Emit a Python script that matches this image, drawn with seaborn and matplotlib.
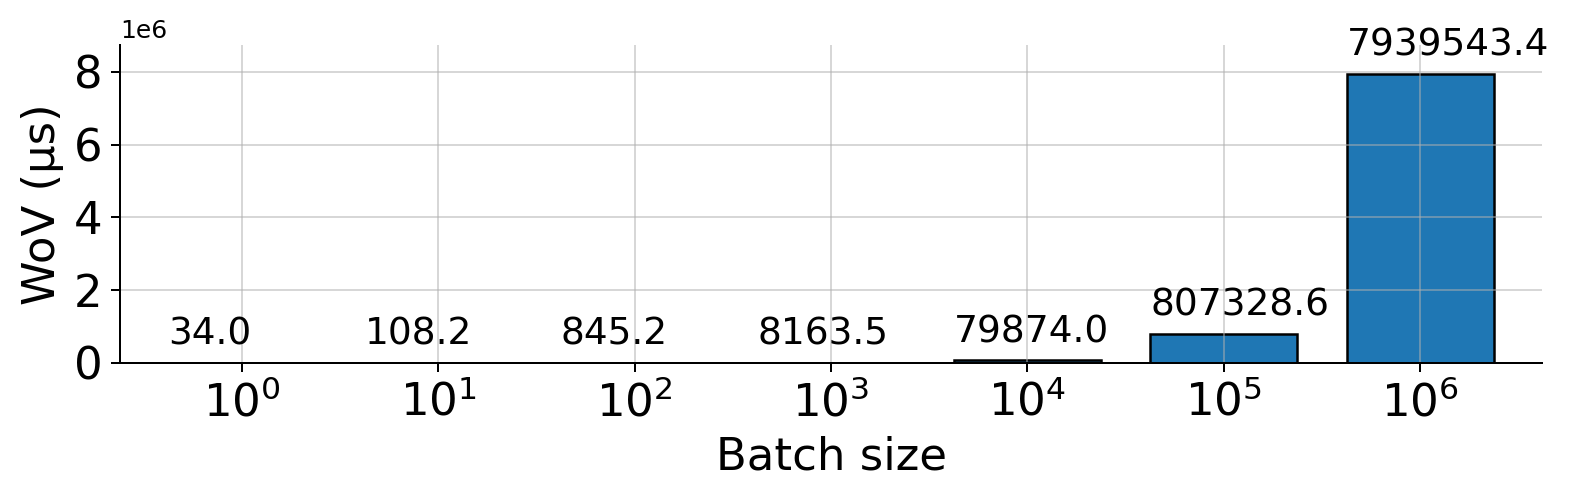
import matplotlib
matplotlib.use("Agg")
import matplotlib.pyplot as plt
import matplotlib.ticker as mticker
import pandas as pd
import seaborn as sns

batch_sizes = ["$10^{0}$", "$10^{1}$", "$10^{2}$", "$10^{3}$",
               "$10^{4}$", "$10^{5}$", "$10^{6}$"]
wov_us = [34.0, 108.2, 845.2, 8163.5, 79874.0, 807328.6, 7939543.4]

df = pd.DataFrame({"batch": batch_sizes, "wov": wov_us})

fig, ax = plt.subplots(figsize=(1577 / 180, 500 / 180), dpi=180)
fig.subplots_adjust(left=0.0761, right=0.9778, bottom=0.274, top=0.91)

sns.barplot(data=df, x="batch", y="wov", color="#1f77b4", saturation=1,
            width=0.75, edgecolor="black", linewidth=1, ax=ax)

# value labels start at the left edge of each bar
for rect, v in zip(ax.patches, wov_us):
    ax.annotate(f"{v:.1f}", (rect.get_x(), rect.get_height()),
                xytext=(0, 4), textcoords="offset points",
                ha="left", va="bottom", fontsize=15)

ax.set_xlim(-0.62, 6.62)
ax.set_ylim(0, max(wov_us) * 1.1)
ax.yaxis.set_major_locator(mticker.MultipleLocator(2e6))
ax.grid(True, alpha=0.5)
ax.set_axisbelow("line")
ax.tick_params(axis="both", labelsize=18)
ax.set_xlabel("Batch size", fontsize=18)
ax.set_ylabel("WoV (µs)", fontsize=18)
ax.yaxis.get_offset_text().set_fontsize(10)
sns.despine(ax=ax)

fig.savefig("out.png", dpi=180)
